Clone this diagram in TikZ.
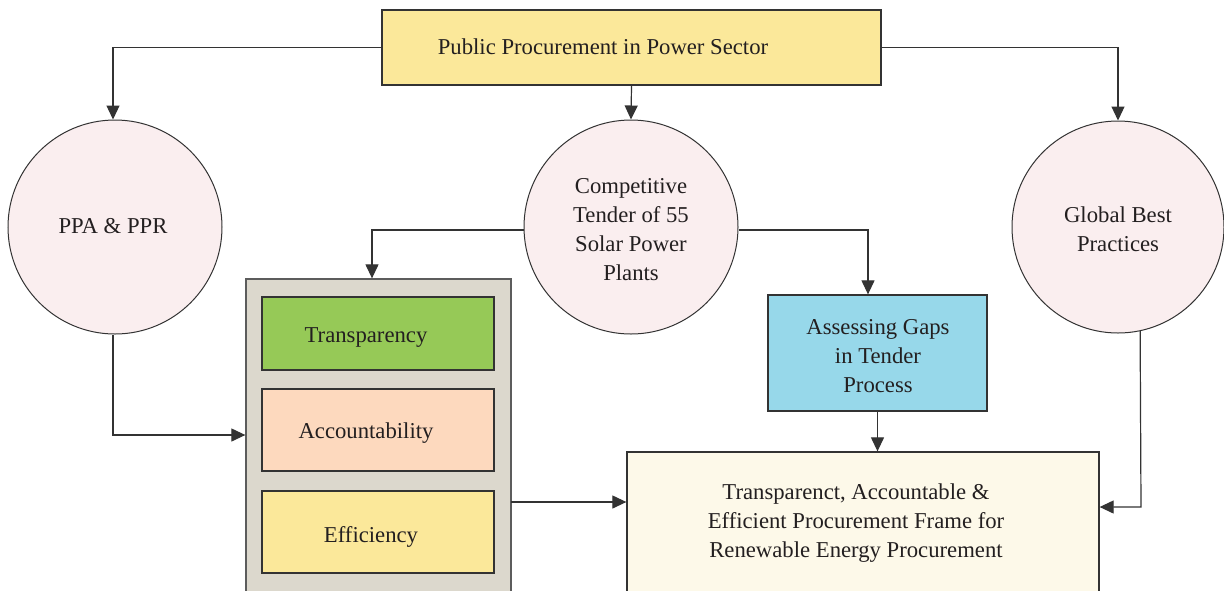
\documentclass[tikz,border=0pt]{standalone}
\usepackage{fontspec}
\setmainfont{Liberation Serif}
\usetikzlibrary{arrows.meta}
\definecolor{ink}{HTML}{231F20}
\definecolor{edge}{HTML}{333333}
\definecolor{topfill}{HTML}{FBE89A}
\definecolor{circfill}{HTML}{FAEEEF}
\definecolor{panelfill}{HTML}{DCD8CD}
\definecolor{greenfill}{HTML}{96C957}
\definecolor{peachfill}{HTML}{FDD9BE}
\definecolor{yellowfill}{HTML}{FBE89A}
\definecolor{bluefill}{HTML}{97D8EA}
\definecolor{creamfill}{HTML}{FDF9E9}
\tikzset{
  box/.style={draw=edge, line width=1.3pt, rectangle, inner sep=0pt},
  disc/.style={draw=edge, line width=1pt, circle, fill=circfill, inner sep=0pt},
  txt/.style={text=ink, align=center, font=\fontsize{22.7}{29}\selectfont, inner sep=0pt},
  arr/.style={draw=edge, line width=1.2pt, -{Triangle[length=14pt,width=13pt]}},
}
\begin{document}
\begin{tikzpicture}[x=1pt,y=-1pt]
\useasboundingbox[fill=white] (0,0) rectangle (1224,590);

% top level
\node[box, fill=topfill, minimum width=499pt, minimum height=75pt] (top) at (631.5,47.5) {};
\node[txt] (toptxt) at (603,47) {Public Procurement in Power Sector};

% three circles
\node[disc, minimum size=214pt] (ppa) at (115,227) {};
\node[txt] (ppatxt) at (113,226) {PPA \& PPR};
\node[disc, minimum size=214pt] (comp) at (631,227) {};
\node[txt] (comptxt) at (631,230) {Competitive\\Tender of 55\\Solar Power\\Plants};
\node[disc, minimum size=212pt] (glob) at (1118,227) {};
\node[txt] (globtxt) at (1118,229) {Global Best\\Practices};

% principles panel
\node[box, draw=edge!80, fill=panelfill, minimum width=265pt, minimum height=341pt] (panel) at (378.5,449.5) {};
\node[box, fill=greenfill, minimum width=232pt, minimum height=73pt] (trans) at (378,333.5) {};
\node[txt] (transtxt) at (366,338) {Transparency};
\node[box, fill=peachfill, minimum width=232pt, minimum height=82pt] (acc) at (378,430) {};
\node[txt] (acctxt) at (366,433) {Accountability};
\node[box, fill=yellowfill, minimum width=232pt, minimum height=82pt] (eff) at (378,532) {};
\node[txt] (efftxt) at (371,537) {Efficiency};

% gap assessment
\node[box, fill=bluefill, minimum width=219pt, minimum height=116pt] (gaps) at (877.5,353) {};
\node[txt] (gapstxt) at (878,356) {Assessing Gaps\\in Tender\\Process};

% resulting framework
\node[box, fill=creamfill, minimum width=472pt, minimum height=168pt] (frame) at (863,536) {};
\node[txt] (frametxt) at (856,523) {Transparenct, Accountable \&\\Efficient Procurement Frame for\\Renewable Energy Procurement};

% bend points
\coordinate (ppabend) at (113,435);
\coordinate (leftbend) at (372,230);
\coordinate (rightbend) at (868,230);
\coordinate (globbend) at (1141,507);
\coordinate (panelout) at (511,502);

% connectors
\draw[arr] (top.west) -| ([xshift=-2pt]ppa.north);
\draw[arr] (top.south) -- (comp.north);
\draw[arr] (top.east) -| (glob.north);
\draw[arr] ([xshift=-2pt]ppa.south) -- (ppabend) -- (panel.west |- ppabend);
\draw[arr] (comp.west |- leftbend) -- (leftbend) -- (leftbend |- panel.north);
\draw[arr] (comp.east |- rightbend) -- (rightbend) -- (rightbend |- gaps.north);
\draw[arr] (gaps.south) -- (gaps.south |- frame.north);
\draw[arr] (panelout) -- (frame.west |- panelout);
\draw[arr] (glob.-78) -- (globbend) -- (frame.east |- globbend);
\end{tikzpicture}
\end{document}
